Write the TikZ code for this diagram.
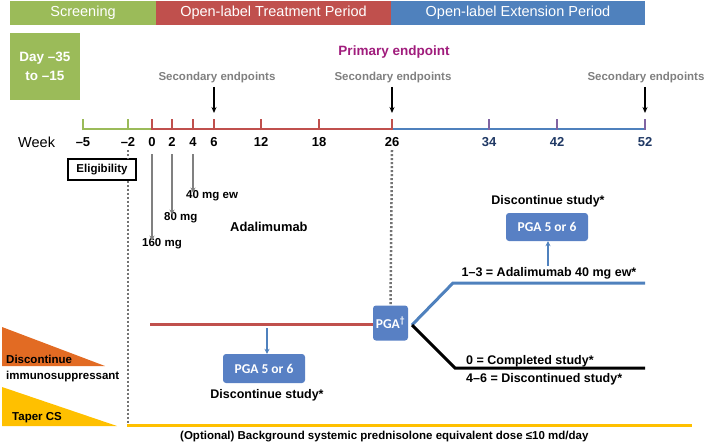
\documentclass[tikz,border=0pt]{standalone}
\usepackage{fontspec}
\setmainfont{Liberation Sans}
\newfontfamily\pgafont{Carlito}
\usetikzlibrary{positioning,arrows.meta}

\definecolor{scrgreen}{RGB}{155,187,89}
\definecolor{trtred}{RGB}{192,80,77}
\definecolor{extblue}{RGB}{79,129,189}
\definecolor{pgablue}{RGB}{88,128,196}
\definecolor{primpurple}{RGB}{160,28,124}
\definecolor{wknavy}{RGB}{31,56,100}
\definecolor{tickpurple}{RGB}{128,100,162}
\definecolor{csorange}{RGB}{226,107,35}
\definecolor{csyellow}{RGB}{255,192,0}

\begin{document}
\begin{tikzpicture}[x=1pt, y=-1pt,
  band/.style={fill=#1, draw=none, minimum height=24pt, inner sep=0pt, text=white,
    font=\fontsize{14.5}{16}\selectfont},
  seclab/.style={text=gray, font=\fontsize{11.5}{13}\selectfont\bfseries},
  weeklab/.style={font=\fontsize{13}{15}\selectfont\bfseries},
  doselab/.style={anchor=west, inner sep=0pt, font=\fontsize{11.5}{13}\selectfont\bfseries},
  txt/.style={inner sep=0pt, font=\fontsize{12.5}{14}\selectfont\bfseries},
  pgabox/.style={rounded corners=3pt, fill=pgablue, text=white, inner sep=0pt,
    font=\pgafont\fontsize{13.5}{15}\selectfont\bfseries},
  endarrow/.style={-{Stealth[length=6pt, width=5pt]}, line width=1.5pt},
  dosearrow/.style={-{Stealth[length=5pt, width=5pt]}, gray, line width=1.8pt},
  bluearrow/.style={-{Stealth[length=5pt, width=5pt]}, extblue, line width=1.5pt},
  dotline/.style={gray!90!black, line width=2.5pt, dash pattern=on 2pt off 2pt}
]
  \useasboundingbox (0,0) rectangle (709,445);

  % Period bands
  \node[band=scrgreen, minimum width=146pt] (scr) at (83,13) {Screening};
  \node[band=trtred, minimum width=235pt] (trt) at (273.5,13) {Open-label Treatment Period};
  \node[band=extblue, minimum width=254pt] (ext) at (518,13) {Open-label Extension Period};
  \node[fill=scrgreen, minimum width=70pt, minimum height=67pt, inner sep=0pt, text=white,
    align=center, font=\fontsize{13.5}{19}\selectfont\bfseries] (day) at (45,66.5)
    {Day --35\\to --15};

  % Endpoints
  \node[text=primpurple, font=\fontsize{13.5}{15}\selectfont\bfseries] (prim) at (394,52) {Primary endpoint};
  \node[seclab] (sec1) at (217,78) {Secondary endpoints};
  \node[seclab] (sec2) at (393,78) {Secondary endpoints};
  \node[seclab] (sec3) at (646,78) {Secondary endpoints};
  \coordinate (e6) at (214,113);
  \coordinate (e26) at (392,113);
  \coordinate (e52) at (645,113);
  \draw[endarrow] (sec1.south -| e6) -- (e6);
  \draw[endarrow] (sec2.south -| e26) -- (e26);
  \draw[endarrow] (sec3.south -| e52) -- (e52);

  % Timeline
  \coordinate (w0) at (152,129);
  \coordinate (w26) at (392,129);
  \draw[scrgreen, line width=2.5pt] (83,129) -- (w0);
  \draw[trtred, line width=2.5pt] (w0) -- (w26);
  \draw[extblue, line width=2.5pt] (w26) -- (645,129);
  \node[font=\fontsize{14.5}{16}\selectfont, anchor=west, inner sep=0pt] (week) at (18,142) {Week};
  \foreach \wk/\xx/\col/\tcol [count=\i] in {--5/83/scrgreen/black, --2/128/scrgreen/black,
      0/152/trtred/black, 2/172/trtred/black, 4/193/trtred/black, 6/214/trtred/black,
      12/261/trtred/black, 18/319/trtred/black, 26/392/trtred/black,
      34/489/tickpurple/wknavy, 42/557/tickpurple/wknavy, 52/645/tickpurple/wknavy} {
    \draw[\col, line width=2.2pt] (\xx,130) -- (\xx,119);
    \node[weeklab, text=\tcol] (wl\i) at (\xx,142) {\wk};
  }

  % Eligibility
  \node[draw, line width=1.2pt, minimum width=68pt, minimum height=21pt, inner sep=0pt,
    font=\fontsize{11.5}{13}\selectfont\bfseries] (elig) at (102,169.5) {Eligibility};
  \coordinate (dotend) at (128,426);
  \draw[dotline] (wl2.south) -- (wl2.south |- elig.north);
  \draw[dotline] (wl2.south |- elig.south) -- (dotend);

  % Adalimumab dosing
  \node[doselab] (d160) at (142,244) {160 mg};
  \node[doselab] (d80) at (164,218) {80 mg};
  \node[doselab] (d40) at (186,196) {40 mg ew};
  \node[doselab, font=\fontsize{12.9}{14}\selectfont\bfseries] (ada) at (230,227) {Adalimumab};
  \coordinate (a0) at (152,154);
  \coordinate (a2) at (172,154);
  \coordinate (a4) at (193,154);
  \draw[dosearrow] (a0) -- ([yshift=-2pt]a0 |- d160.north);
  \draw[dosearrow] (a2) -- ([yshift=-2pt]a2 |- d80.north);
  \draw[dosearrow] (a4) -- ([yshift=-2pt]a4 |- d40.north);

  % Week 26 PGA
  \node[pgabox, minimum width=35pt, minimum height=35pt] (pgat) at (390.5,323) {PGA\textsuperscript{†}};
  \draw[dotline] (wl9.south) -- (pgat.north);
  \coordinate (trtstart) at (150,324);
  \draw[trtred, line width=3pt] (trtstart) -- (pgat.west |- trtstart);

  % Treatment period PGA 5 or 6
  \node[pgabox, minimum width=82pt, minimum height=29pt] (pga1) at (264,368.5) {PGA 5 or 6};
  \node[txt] (disc1) at (267,395) {Discontinue study*};
  \coordinate (drop) at (267,328);
  \draw[bluearrow] (drop) -- (drop |- pga1.north);

  % Branches
  \coordinate (fork) at (412,325);
  \coordinate (upknee) at (453,283);
  \coordinate (upend) at (645,283);
  \coordinate (dnknee) at (455,368);
  \coordinate (dnend) at (645,368);
  \draw[extblue, line width=3pt] (fork) -- (upknee) -- (upend);
  \draw[black, line width=3pt] (fork) -- (dnknee) -- (dnend);
  \node[txt] (cont) at (549,273) {1--3 = Adalimumab 40 mg ew*};
  \node[pgabox, minimum width=82pt, minimum height=28pt] (pga2) at (547,227) {PGA 5 or 6};
  \node[txt] (disc2) at (548,201) {Discontinue study*};
  \coordinate (rise) at (548,266);
  \draw[bluearrow] (rise) -- (rise |- pga2.south);
  \node[txt, anchor=west] (compl) at (466,361) {0 = Completed study*};
  \node[txt, anchor=west] (discd) at (466,379) {4--6 = Discontinued study*};

  % Concomitant medication
  \fill[csorange] (2,327) -- (2,366) -- (105,366) -- cycle;
  \fill[csyellow] (2,387) -- (2,426) -- (117,426) -- cycle;
  \node[doselab] (discim) at (6,359) {Discontinue};
  \node[doselab] (immuno) at (6,377) {immunosuppressant};
  \node[doselab] (taper) at (12,418) {Taper CS};
  \coordinate (bgstart) at (127,425);
  \coordinate (bgend) at (692,425);
  \draw[csyellow, line width=3pt] (bgstart) -- (bgend);
  \node[doselab] (bgtext) at (180,437) {(Optional) Background systemic prednisolone equivalent dose ≤10 md/day};
\end{tikzpicture}
\end{document}
